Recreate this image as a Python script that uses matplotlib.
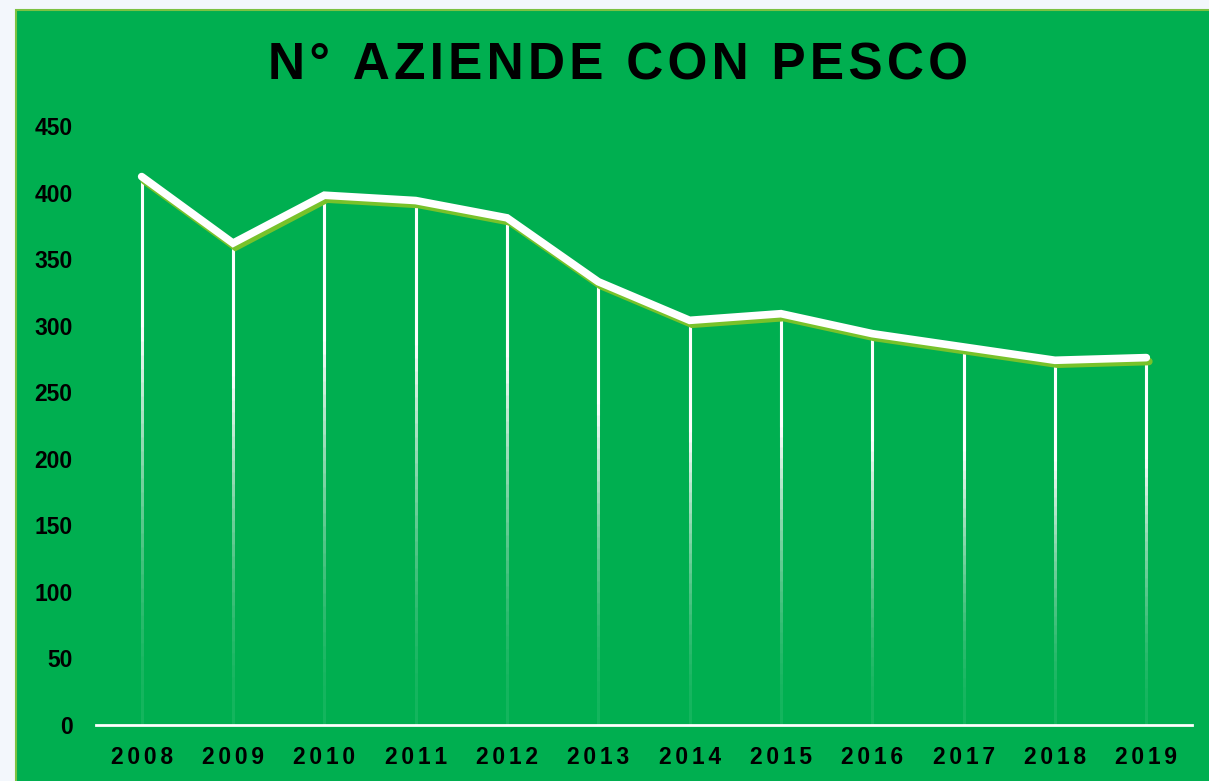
import numpy as np
import matplotlib.pyplot as plt
import matplotlib.patheffects as pe
from matplotlib.patches import Rectangle

plt.rcParams['font.family'] = ['Liberation Sans', 'DejaVu Sans']

years = ['2008', '2009', '2010', '2011', '2012', '2013',
         '2014', '2015', '2016', '2017', '2018', '2019']
aziende = [412, 362, 398, 394, 381, 333, 304, 309, 294, 284, 274, 276]
y_ticks = [0, 50, 100, 150, 200, 250, 300, 350, 400, 450]
title = 'N° AZIENDE CON PESCO'

GREEN = '#00AF50'
SHADOW = '#78C22A'
HAIR = '\u200a'

fig = plt.figure(figsize=(12.09, 7.81), dpi=100)
fig.patch.set_facecolor('#F3F7FC')
# green chart panel, cut off at right and bottom like the screenshot
fig.patches.append(Rectangle((16 / 1209, -0.05), 1.2, 1 - 10 / 781 + 0.05,
                             transform=fig.transFigure, facecolor=GREEN,
                             edgecolor='#7CC242', linewidth=1.5, zorder=-10))

ax = fig.add_axes([96 / 1209, 1 - 725 / 781, 1096 / 1209, 599 / 781])
ax.set_facecolor('none')
ax.set_zorder(5)

x = np.arange(len(years))

# drop lines, faded towards the bottom: stacked translucent lines
levels = np.linspace(0, 1, 40, endpoint=False)
target = np.minimum(0.08 + 0.92 * np.minimum(1, levels * 1.4) ** 1.6, 0.995)
prev = np.concatenate([[0], target[:-1]])
alphas = 1 - (1 - target) / (1 - prev)
for xi, v in zip(x, aziende):
    for t, a in zip(levels, alphas):
        ax.plot([xi, xi], [t * v, v], color='white', alpha=a, lw=2.2,
                solid_capstyle='butt', zorder=2)

ax.plot(x, aziende, color='white', lw=5.5, solid_capstyle='round',
        solid_joinstyle='miter', zorder=3,
        path_effects=[pe.SimpleLineShadow(offset=(1.8, -2.8), shadow_color=SHADOW,
                                          alpha=1),
                      pe.Normal()])

ax.set_xlim(-0.5, len(years) - 0.5)
ax.set_ylim(0, 450)
ax.set_yticks(y_ticks)
ax.set_yticklabels([str(t) for t in y_ticks], fontsize=16.5, fontweight='bold')
ax.set_xticks(x)
ax.set_xticklabels([(HAIR * 2).join(y) for y in years], fontsize=16.5,
                   fontweight='bold')
ax.tick_params(axis='y', length=0, pad=17)
ax.tick_params(axis='x', length=0, pad=15)

for s in ['top', 'right', 'left']:
    ax.spines[s].set_visible(False)
ax.spines['bottom'].set_color('white')
ax.spines['bottom'].set_linewidth(2)

# letter-spaced title
fig.text(618 / 1209, 1 - 66 / 781, HAIR.join(title), ha='center', va='center',
         fontsize=37, fontweight='bold', color='black')

fig.savefig('out.png', dpi=100, facecolor=fig.get_facecolor())
